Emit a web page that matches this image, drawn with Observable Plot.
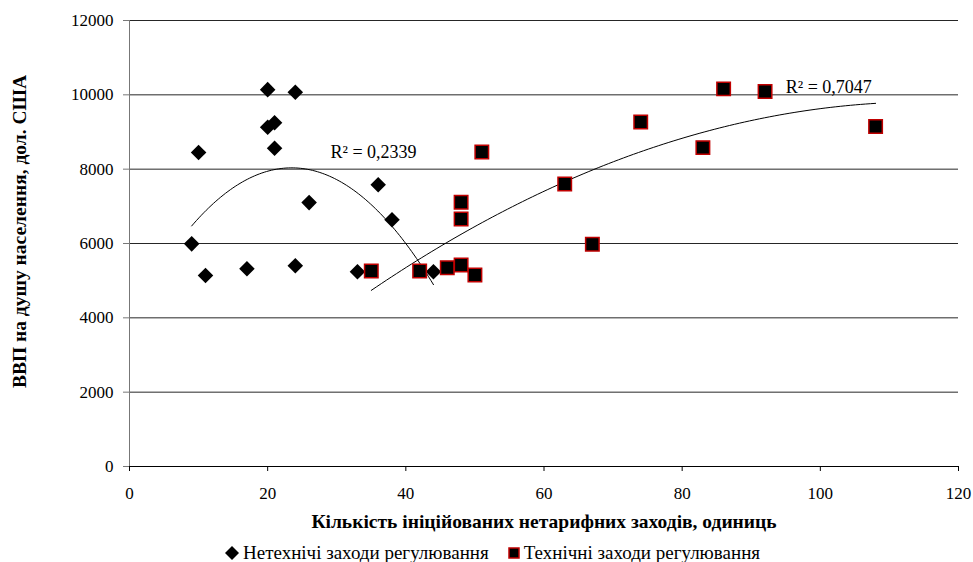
<!DOCTYPE html>
<html>
<head>
<meta charset="utf-8">
<script src="https://cdn.jsdelivr.net/npm/d3@7"></script>
<script src="https://cdn.jsdelivr.net/npm/@observablehq/plot@0.6"></script>
<style>
  html, body { margin: 0; padding: 0; background: #fff; }
  #wrap { position: relative; width: 973px; height: 562px; overflow: hidden; }
  #legend { position: absolute; left: 225px; top: 540px; height: 26px; display: flex; align-items: center;
            font-family: "Liberation Serif", "Times New Roman", serif; font-size: 19px; color: #000; white-space: nowrap; }
  #legend .item { display: flex; align-items: center; }
  #legend .item:first-child { margin-right: 19px; }
  #legend svg { margin-right: 4px; }
</style>
</head>
<body>
<div id="wrap"><div id="chart"></div><div id="legend"></div></div>
<script>
// ---- data ----
const seriesNames = ["Нетехнічі заходи регулювання", "Технічні заходи регулювання"];
const nonTechX = [9, 10, 11, 17, 20, 20, 21, 21, 24, 24, 26, 33, 36, 38, 44];
const nonTechY = [5990, 8450, 5140, 5320, 10140, 9130, 9250, 8560, 10070, 5400, 7100, 5240, 7580, 6640, 5240];
const techX = [35, 42, 46, 48, 48, 48, 50, 51, 63, 67, 74, 83, 86, 92, 108];
const techY = [5260, 5260, 5350, 5420, 7110, 6660, 5150, 8460, 7600, 5980, 9270, 8580, 10160, 10090, 9150];
const r2Labels = ["R² = 0,2339", "R² = 0,7047"];
const xTicks = [0, 20, 40, 60, 80, 100, 120];
const yTicks = [0, 2000, 4000, 6000, 8000, 10000, 12000];
const xTitle = "Кількість ініційованих нетарифних заходів, одиниць";
const yTitle = "ВВП на душу населення, дол. США";

const nonTech = nonTechX.map((x, i) => ({x, y: nonTechY[i]}));
const tech = techX.map((x, i) => ({x, y: techY[i]}));

// quadratic least-squares trendline (as in the spreadsheet)
function polyFit2(pts) {
  let s = [0,0,0,0,0], t = [0,0,0];
  for (const {x, y} of pts) {
    let p = 1;
    for (let k = 0; k < 5; k++) { s[k] += p; if (k < 3) t[k] += p * y; p *= x; }
  }
  const A = [[s[0], s[1], s[2], t[0]], [s[1], s[2], s[3], t[1]], [s[2], s[3], s[4], t[2]]];
  for (let i = 0; i < 3; i++) {
    for (let j = i + 1; j < 3; j++) {
      const f = A[j][i] / A[i][i];
      for (let k = i; k < 4; k++) A[j][k] -= f * A[i][k];
    }
  }
  const c = [0,0,0];
  for (let i = 2; i >= 0; i--) {
    let v = A[i][3];
    for (let k = i + 1; k < 3; k++) v -= A[i][k] * c[k];
    c[i] = v / A[i][i];
  }
  const [x0, x1] = d3.extent(pts, d => d.x);
  return d3.range(0, 101).map(i => {
    const x = x0 + (x1 - x0) * i / 100;
    return {x, y: c[0] + c[1] * x + c[2] * x * x};
  });
}
const trendNon = polyFit2(nonTech);
const trendTech = polyFit2(tech);

const serif = '"Liberation Serif", "Times New Roman", serif';

const chart = Plot.plot({
  width: 973,
  height: 541,
  marginTop: 20,
  marginRight: 15,
  marginBottom: 75,
  marginLeft: 129,
  style: {fontFamily: serif, fontSize: "17px", background: "#fff", color: "#000"},
  x: {domain: [0, 120]},
  y: {domain: [0, 12000]},
  marks: [
    Plot.gridY(yTicks.slice(1), {stroke: "#000", strokeOpacity: 0.85, strokeWidth: 1}),
    Plot.ruleX([0], {stroke: "#777", strokeWidth: 1}),
    Plot.ruleY([0], {stroke: "#000", strokeWidth: 1}),
    Plot.axisY({ticks: yTicks, tickSize: 6, tickFormat: () => "", label: null, stroke: "#777"}),
    Plot.axisX({ticks: xTicks, tickSize: 5, tickFormat: () => "", label: null, stroke: "#000"}),
    Plot.text(yTicks, {x: 0, y: d => d, text: d => String(d), textAnchor: "end", dx: -16, fontSize: 17, fontFamily: serif, fill: "#000"}),
    Plot.text(xTicks, {x: d => d, y: 0, text: d => String(d), textAnchor: "middle", dy: 27, fontSize: 17, fontFamily: serif, fill: "#000"}),
    Plot.line(trendNon, {x: "x", y: "y", stroke: "#000", strokeWidth: 1}),
    Plot.line(trendTech, {x: "x", y: "y", stroke: "#000", strokeWidth: 1}),
    Plot.dot(nonTech, {x: "x", y: "y", symbol: "diamond2", r: 7, fill: "#000", stroke: "none"}),
    Plot.dot(tech, {x: "x", y: "y", symbol: "square", r: 7.6, fill: "#000", stroke: "#c00000", strokeWidth: 1.5}),
    Plot.text([r2Labels[0]], {x: 29.1, y: 8450, text: d => d, textAnchor: "start", fontSize: 18, fontFamily: serif}),
    Plot.text([r2Labels[1]], {x: 95, y: 10200, text: d => d, textAnchor: "start", fontSize: 18, fontFamily: serif}),
    Plot.text([xTitle], {frameAnchor: "bottom", dy: 61, text: d => d, fontWeight: "bold", fontSize: 19.5, fontFamily: serif}),
    Plot.text([yTitle], {frameAnchor: "left", textAnchor: "middle", dx: -110, dy: -12, rotate: -90, text: d => d, fontWeight: "bold", fontSize: 19.5, fontFamily: serif})
  ]
});
document.getElementById("chart").appendChild(chart);

// legend
const legend = d3.select("#legend");
const it1 = legend.append("div").attr("class", "item");
it1.append("svg").attr("width", 14).attr("height", 14)
  .append("path").attr("d", "M7,0 L14,7 L7,14 L0,7 Z").attr("fill", "#000");
it1.append("span").text(seriesNames[0]);
const it2 = legend.append("div").attr("class", "item");
it2.append("svg").attr("width", 12).attr("height", 12)
  .append("rect").attr("x", 1).attr("y", 1).attr("width", 10).attr("height", 10)
  .attr("fill", "#000").attr("stroke", "#c00000").attr("stroke-width", 1.5);
it2.append("span").text(seriesNames[1]);
</script>
</body>
</html>
